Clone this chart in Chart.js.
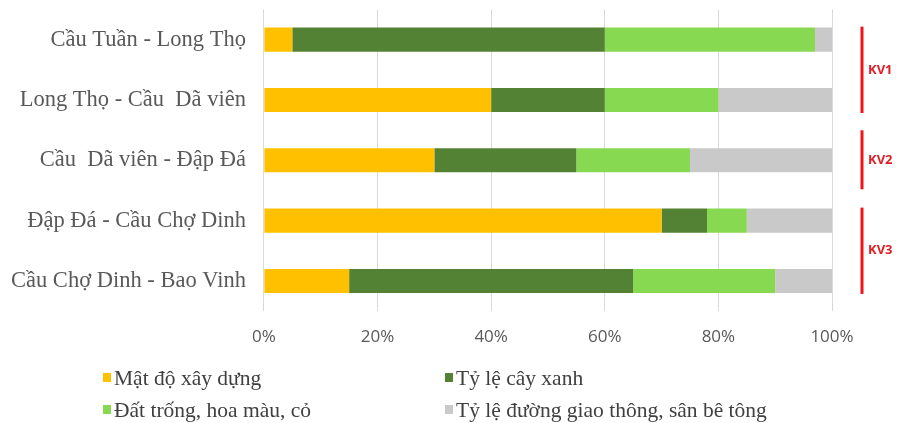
<!DOCTYPE html>
<html>
<head>
<meta charset="utf-8">
<script src="https://cdn.jsdelivr.net/npm/chart.js@4"></script>
<style>
  html, body { margin: 0; padding: 0; background: #fff; }
  #wrap { width: 903px; height: 423px; }
</style>
</head>
<body>
<div id="wrap"><canvas id="chart"></canvas></div>
<script>
const segments = [
  "Cầu Tuần - Long Thọ",
  "Long Thọ - Cầu  Dã viên",
  "Cầu  Dã viên - Đập Đá",
  "Đập Đá - Cầu Chợ Dinh",
  "Cầu Chợ Dinh - Bao Vinh"
];
const matDoXayDung = [5, 40, 30, 70, 15];
const tyLeCayXanh = [55, 20, 25, 8, 50];
const datTrong = [37, 20, 20, 7, 25];
const tyLeDuong = [3, 20, 25, 15, 10];
const seriesNames = [
  "Mật độ xây dựng",
  "Tỷ lệ cây xanh",
  "Đất trống, hoa màu, cỏ",
  "Tỷ lệ đường giao thông, sân bê tông"
];
const xTicks = [0, 20, 40, 60, 80, 100];
// zones: label, first row, last row
const zoneNames = ["KV1", "KV2", "KV3"];
const zoneFirst = [0, 2, 3];
const zoneLast = [1, 2, 4];

const colors = ["#FFC000", "#548235", "#88D952", "#C9C9C9"];
const values = [matDoXayDung, tyLeCayXanh, datTrong, tyLeDuong];

// red brackets with KV labels on the right
const zonePlugin = {
  id: "zones",
  afterDraw(chart) {
    const { ctx } = chart;
    const y = chart.scales.y;
    const x0 = 862;
    ctx.save();
    zoneNames.forEach((name, i) => {
      const single = zoneFirst[i] === zoneLast[i];
      const top = y.getPixelForValue(zoneFirst[i]) - (single ? 30 : 13);
      const bottom = y.getPixelForValue(zoneLast[i]) + (single ? 29 : 13);
      ctx.strokeStyle = "#F0131A";
      ctx.lineWidth = 3;
      ctx.beginPath();
      ctx.moveTo(x0, top);
      ctx.lineTo(x0, bottom);
      ctx.stroke();
      ctx.fillStyle = "#DE2128";
      ctx.font = "bold 13px 'Open Sans', sans-serif";
      ctx.textAlign = "left";
      ctx.textBaseline = "middle";
      ctx.fillText(name, x0 + 6, (top + bottom) / 2);
    });
    ctx.restore();
  }
};

// two-column legend under the axis
const legendPlugin = {
  id: "twoColLegend",
  afterDraw(chart) {
    const { ctx } = chart;
    const cols = [103, 445];
    const rows = [378, 410];
    ctx.save();
    ctx.font = "21.5px 'Liberation Serif', serif";
    ctx.textBaseline = "middle";
    ctx.textAlign = "left";
    chart.data.datasets.forEach((ds, i) => {
      const cx = cols[i % 2];
      const cy = rows[Math.floor(i / 2)];
      ctx.fillStyle = ds.backgroundColor;
      ctx.fillRect(cx, cy - 5, 8, 9);
      ctx.fillStyle = "#404040";
      ctx.fillText(ds.label, cx + 11, cy + 1);
    });
    ctx.restore();
  }
};

new Chart(document.getElementById("chart"), {
  type: "bar",
  data: {
    labels: segments,
    datasets: values.map((v, i) => ({
      label: seriesNames[i],
      data: v,
      backgroundColor: colors[i],
      borderWidth: 0,
      barPercentage: 0.4,
      categoryPercentage: 1
    }))
  },
  options: {
    indexAxis: "y",
    responsive: true,
    maintainAspectRatio: false,
    animation: false,
    layout: { padding: { top: 9.5, right: 71, bottom: 59.5, left: -7 } },
    plugins: {
      legend: { display: false },
      tooltip: { enabled: false }
    },
    scales: {
      x: {
        stacked: true,
        min: 0,
        max: 100,
        afterBuildTicks(axis) { axis.ticks = xTicks.map(v => ({ value: v })); },
        ticks: {
          callback: v => v + "%",
          color: "#595959",
          font: { family: "'Open Sans'", size: 17 },
          padding: 16
        },
        grid: { color: "#D9D9D9", drawTicks: false },
        border: { display: false }
      },
      y: {
        stacked: true,
        // label padding should not push the plot down from the top edge
        afterFit(axis) { axis.paddingTop = 0; axis.paddingBottom = 0; },
        ticks: {
          color: "#595959",
          font: { family: "'Liberation Serif'", size: 22.5 },
          padding: 18
        },
        grid: { display: false, drawTicks: false },
        border: { display: false }
      }
    }
  },
  plugins: [zonePlugin, legendPlugin]
});
</script>
</body>
</html>
